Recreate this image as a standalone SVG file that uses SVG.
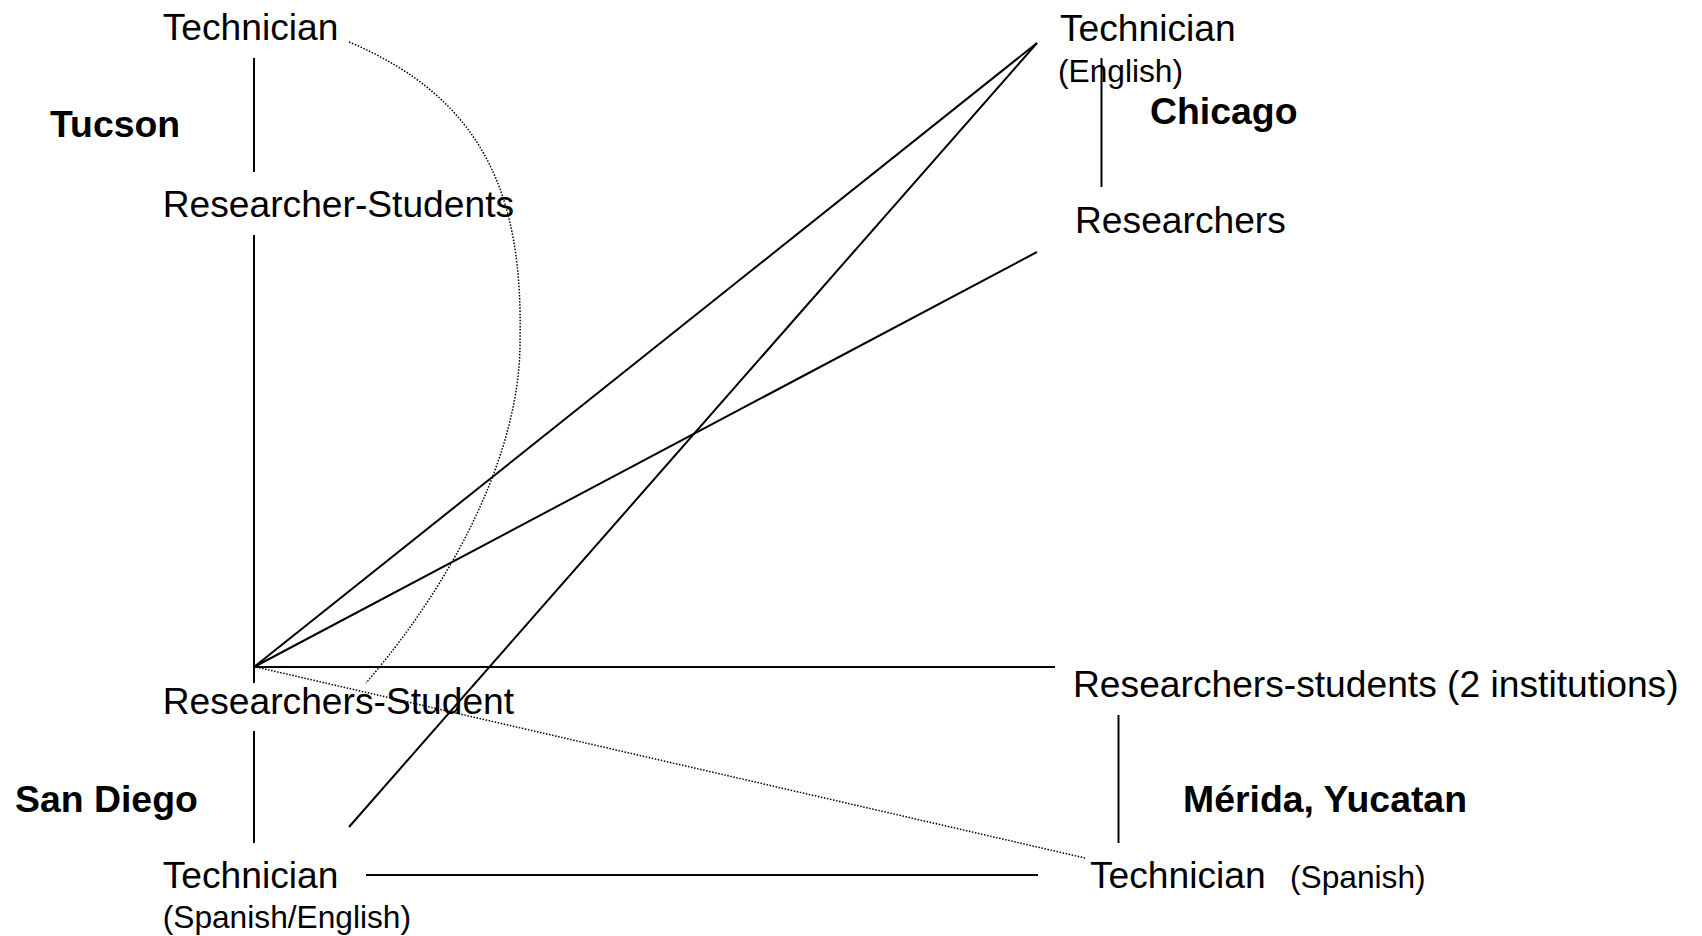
<svg xmlns="http://www.w3.org/2000/svg" width="1702" height="936" viewBox="0 0 1702 936">
<style>
text{font-family:"Liberation Sans",Arial,sans-serif;fill:#000}
.n{font-size:37.2px}
.b{font-size:37.4px;font-weight:bold}
.s{font-size:31.7px}
.ln{stroke:#000;stroke-width:2;fill:none}
.dt{stroke:#000;stroke-width:1.5;fill:none;stroke-dasharray:1.5 1.6}
</style>
<rect width="1702" height="936" fill="#fff"/>
<g id="connectors">
<line class="ln" x1="254" y1="58" x2="254" y2="172"/>
<line class="ln" x1="254" y1="235" x2="254" y2="683"/>
<line class="ln" x1="254" y1="731" x2="254" y2="843"/>
<line class="ln" x1="1101.5" y1="58" x2="1101.5" y2="187"/>
<line class="ln" x1="1118.5" y1="715" x2="1118.5" y2="843"/>
<line class="ln" x1="254" y1="667" x2="1055" y2="667"/>
<line class="ln" x1="366" y1="875" x2="1038" y2="875"/>
<line class="ln" x1="254" y1="667" x2="1037" y2="43"/>
<line class="ln" x1="254" y1="667" x2="1037" y2="252"/>
<line class="ln" x1="349" y1="827" x2="1037" y2="43"/>
<line class="dt" x1="256" y1="667" x2="1085" y2="858"/>
<path class="dt" d="M349,42 C487,100 523,200 520,340 C521,450 455,580 366,683"/>
</g>
<g id="tucson"><text class="b" x="50" y="137">Tucson</text></g>
<g id="tucson-technician"><text class="n" x="162.7" y="40">Technician</text></g>
<g id="tucson-researchers"><text class="n" x="162.7" y="217">Researcher-Students</text></g>
<g id="chicago"><text class="b" x="1150" y="124">Chicago</text></g>
<g id="chicago-technician"><text class="n" x="1060" y="40.5">Technician</text><text class="s" x="1058" y="82">(English)</text></g>
<g id="chicago-researchers"><text class="n" x="1075" y="233">Researchers</text></g>
<g id="sandiego"><text class="b" x="15" y="812">San Diego</text></g>
<g id="sandiego-researchers"><text class="n" x="162.7" y="714">Researchers-Student</text></g>
<g id="sandiego-technician"><text class="n" x="162.7" y="888">Technician</text><text class="s" x="162.7" y="928">(Spanish/English)</text></g>
<g id="merida"><text class="b" x="1183" y="812">Mérida, Yucatan</text></g>
<g id="merida-researchers"><text class="n" x="1073" y="697">Researchers-students (2 institutions)</text></g>
<g id="merida-technician"><text class="n" x="1090" y="888">Technician</text><text class="s" x="1290" y="888">(Spanish)</text></g>
</svg>
